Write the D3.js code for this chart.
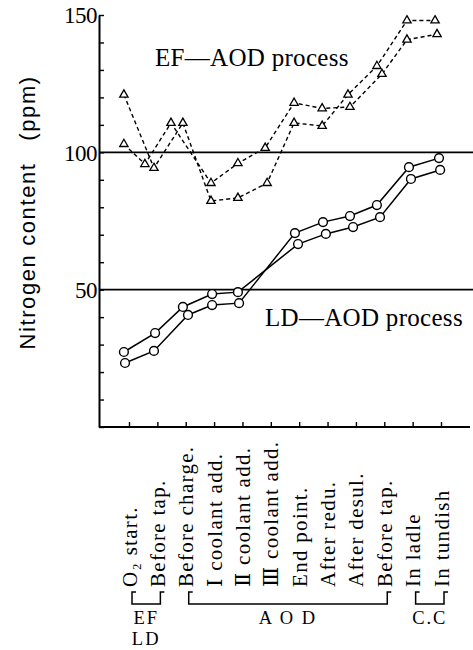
<!DOCTYPE html>
<html><head><meta charset="utf-8">
<script src="https://cdn.jsdelivr.net/npm/d3@7"></script>
<style>body{margin:0;background:#fff}</style>
</head><body>
<script>
// ---- data ----
const stages = ["O\u2082 start.", "Before tap.", "Before charge.", "\u2160 coolant add.", "\u2161 coolant add.", "\u2162 coolant add.", "End point.", "After redu.", "After desul.", "Before tap.", "In ladle", "In tundish"];
const yTickValues = [50, 100, 150];
// LD-AOD (circles): stage position (category index) and nitrogen (ppm)
const ldA_stage = [-0.18, 0.92, 1.90, 2.93, 3.84, 5.96, 6.94, 7.90, 8.85, 9.94, 10.97];
const ldA_ppm   = [27.3, 34.2, 43.7, 48.4, 49.1, 66.6, 70.3, 72.8, 76.4, 90.3, 93.6];
const ldB_stage = [-0.14, 0.88, 2.08, 2.93, 3.88, 5.85, 6.84, 7.79, 8.74, 9.87, 10.93];
const ldB_ppm   = [23.3, 27.7, 40.8, 44.4, 45.1, 70.6, 74.6, 76.8, 80.8, 94.6, 97.9];
// EF-AOD (triangles)
const efA_stage = [-0.18, 0.88, 1.90, 2.89, 3.84, 4.87, 5.82, 6.81, 7.72, 8.74, 9.80, 10.79];
const efA_ppm   = [121, 94.3, 110.7, 82.3, 83.4, 88.8, 110.7, 109.6, 121, 131.4, 148, 148];
const efB_stage = [-0.18, 0.56, 1.48, 2.89, 3.84, 4.80, 5.82, 6.81, 7.79, 8.92, 9.80, 10.86];
const efB_ppm   = [103, 95.7, 110.7, 88.8, 96, 101.6, 118, 116, 116.5, 128.5, 141, 143];
const groups = [
  {label: ["EF", "LD"], from: 0, to: 1},
  {label: ["A O D"], from: 2, to: 9},
  {label: ["C.C"], from: 10, to: 11}
];

// ---- layout ----
const W = 473, H = 650;
const mLeft = 99, mRight = 470, mBottom = 427, mTop = 15;
const svg = d3.select("body").append("svg").attr("width", W).attr("height", H)
  .style("background", "#fff");
const x = d3.scaleLinear().domain([0, 11]).range([129, 441]);
const y = d3.scaleLinear().domain([0, 150]).range([mBottom, mTop]);
const serif = "'Liberation Serif','DejaVu Serif','Times New Roman',serif";
const sans = "'Liberation Sans',Arial,sans-serif";

// grid lines at 50 and 100
svg.append("g").selectAll("line").data([50, 100]).join("line")
  .attr("x1", mLeft).attr("x2", W).attr("y1", d => y(d)).attr("y2", d => y(d))
  .attr("stroke", "#000").attr("stroke-width", 1.6);

// y axis
const yAxis = svg.append("g").attr("transform", `translate(${mLeft},0)`)
  .call(d3.axisRight(y).tickValues(d3.range(0, 151, 10)).tickSize(5).tickSizeOuter(0).tickFormat(""));
yAxis.select(".domain").attr("stroke-width", 2);
yAxis.selectAll(".tick line").attr("stroke-width", 1.4);
svg.append("g").selectAll("text").data(yTickValues).join("text")
  .attr("x", mLeft - 2).attr("y", d => y(d)).attr("dy", "0.36em")
  .attr("text-anchor", "end").attr("font-family", serif).attr("font-size", 23)
  .attr("letter-spacing", -0.5)
  .text(d => d);

// x axis
svg.append("line").attr("x1", mLeft).attr("x2", mRight).attr("y1", mBottom).attr("y2", mBottom)
  .attr("stroke", "#000").attr("stroke-width", 2);
const xAxis = svg.append("g").attr("transform", `translate(0,${mBottom})`)
  .call(d3.axisTop(x).tickValues(d3.range(stages.length)).tickSize(5).tickSizeOuter(0).tickFormat(""));
xAxis.select(".domain").remove();
xAxis.selectAll(".tick line").attr("stroke-width", 1.4);

// y title
svg.append("text").attr("transform", `translate(35,256) rotate(-90)`)
  .attr("text-anchor", "middle").attr("font-family", sans).attr("font-size", 22)
  .attr("letter-spacing", 1.6).text("Nitrogen content");
svg.append("text").attr("transform", `translate(35,108) rotate(-90)`)
  .attr("text-anchor", "middle").attr("font-family", sans).attr("font-size", 22)
  .attr("letter-spacing", 1.6).text("(ppm)");

// series
const mk = (s, v) => s.map((d, i) => ({s: d, v: v[i]}));
const line = d3.line().x(d => x(d.s)).y(d => y(d.v));
const ef = [mk(efA_stage, efA_ppm), mk(efB_stage, efB_ppm)];
const ld = [mk(ldA_stage, ldA_ppm), mk(ldB_stage, ldB_ppm)];

svg.append("g").selectAll("path").data(ef).join("path")
  .attr("d", line).attr("fill", "none").attr("stroke", "#000")
  .attr("stroke-width", 1.4).attr("stroke-dasharray", "4,3");
svg.append("g").selectAll("path").data(ld).join("path")
  .attr("d", line).attr("fill", "none").attr("stroke", "#000").attr("stroke-width", 1.5);

const tri = d3.symbol(d3.symbolTriangle, 30);
svg.append("g").selectAll("path").data(ef.flat()).join("path")
  .attr("transform", d => `translate(${x(d.s)},${y(d.v)})`).attr("d", tri)
  .attr("fill", "#fff").attr("stroke", "#000").attr("stroke-width", 1.3);
svg.append("g").selectAll("circle").data(ld.flat()).join("circle")
  .attr("cx", d => x(d.s)).attr("cy", d => y(d.v)).attr("r", 4.4)
  .attr("fill", "#fff").attr("stroke", "#000").attr("stroke-width", 1.4);

// series labels
svg.append("text").attr("x", 155).attr("y", 66).attr("font-family", serif).attr("font-size", 25)
  .attr("letter-spacing", 0.3).text("EF\u2014AOD process");
svg.append("text").attr("x", 265).attr("y", 326).attr("font-family", serif).attr("font-size", 25)
  .attr("letter-spacing", 0.3).text("LD\u2014AOD process");

// category labels (rotated)
svg.append("g").selectAll("text").data(stages).join("text")
  .attr("transform", (d, i) => `translate(${x(i)},587) rotate(-90)`)
  .attr("dy", "0.36em").attr("font-family", serif).attr("font-size", 21)
  .attr("letter-spacing", 1.3).attr("xml:space", "preserve")
  .text(d => d);

// group brackets
const by0 = 592, by1 = 604;
const gb = svg.append("g");
groups.forEach(g => {
  const x0 = x(g.from) + 3, x1 = x(g.to) + 3;
  gb.append("path")
    .attr("d", `M${x0 + 4},${by0}H${x0}V${by1}H${x1}V${by0}H${x1 + 4}`)
    .attr("fill", "none").attr("stroke", "#000").attr("stroke-width", 1.5);
  g.label.forEach((t, k) => {
    gb.append("text").attr("x", (x0 + x1) / 2).attr("y", 624 + k * 21)
      .attr("text-anchor", "middle").attr("font-family", serif).attr("font-size", 18.5)
      .attr("letter-spacing", 2).text(t);
  });
});
</script>
</body></html>
